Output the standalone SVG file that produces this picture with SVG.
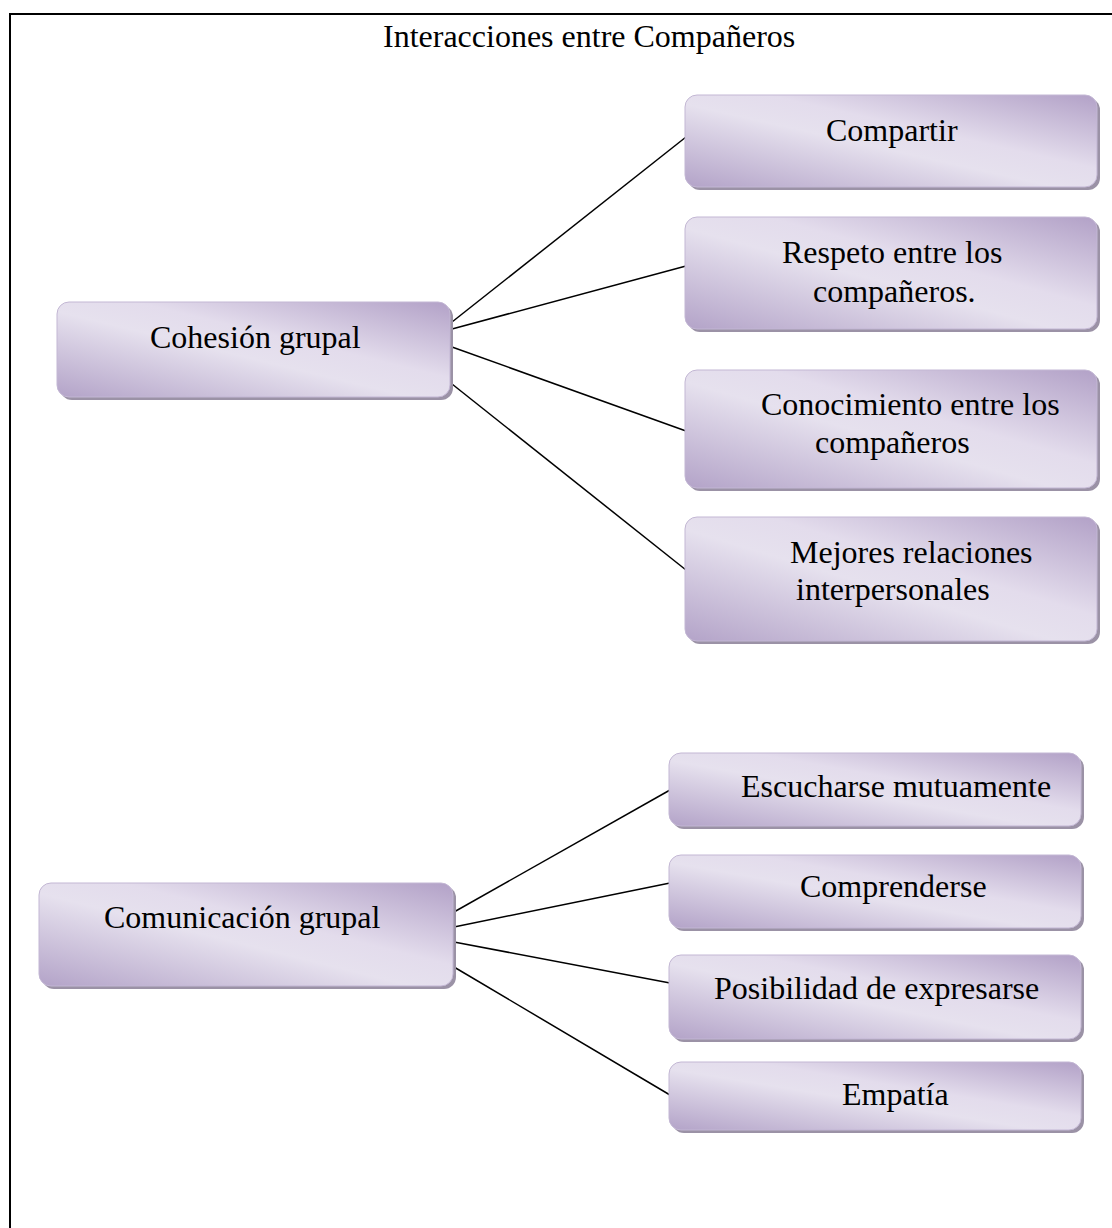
<svg xmlns="http://www.w3.org/2000/svg" width="1112" height="1228" viewBox="0 0 1112 1228">
<defs>
<linearGradient id="g" x1="0" y1="1" x2="1" y2="0">
<stop offset="0" stop-color="#b3a3c8"/>
<stop offset="0.45" stop-color="#e6e1ee"/>
<stop offset="0.6" stop-color="#e3dcec"/>
<stop offset="1" stop-color="#b2a1c7"/>
</linearGradient>
</defs>
<style>
.sh{fill:#9b92a6;}
.bx{fill:url(#g);stroke:#c3b7d4;stroke-width:1;}
.t{font-family:"Liberation Serif","Times New Roman",serif;font-size:32px;fill:#000;}
.c{stroke:#000;stroke-width:1.5;fill:none;}
</style>
<rect width="1112" height="1228" fill="#fff"/>
<path d="M10 1228 V14 H1112" fill="none" stroke="#000" stroke-width="2"/>
<text class="t" x="383" y="47">Interacciones entre Compañeros</text>
<g id="connectors">
<line class="c" x1="452" y1="322" x2="686" y2="137"/>
<line class="c" x1="452" y1="329" x2="686" y2="266"/>
<line class="c" x1="452" y1="347" x2="686" y2="431"/>
<line class="c" x1="452" y1="384" x2="686" y2="570"/>
<line class="c" x1="454" y1="912" x2="670" y2="790"/>
<line class="c" x1="454" y1="927" x2="670" y2="883"/>
<line class="c" x1="454" y1="942" x2="670" y2="983"/>
<line class="c" x1="454" y1="967" x2="670" y2="1095"/>
</g>
<g id="n-cohesion">
<rect class="sh" x="60" y="305" width="393" height="95" rx="12"/>
<rect class="bx" x="57" y="302" width="393" height="95" rx="12"/>
<text class="t" x="150" y="348">Cohesión grupal</text>
</g>
<g id="n-compartir">
<rect class="sh" x="688" y="98" width="412" height="92" rx="12"/>
<rect class="bx" x="685" y="95" width="412" height="92" rx="12"/>
<text class="t" x="826" y="141">Compartir</text>
</g>
<g id="n-respeto">
<rect class="sh" x="688" y="220" width="412" height="112" rx="12"/>
<rect class="bx" x="685" y="217" width="412" height="112" rx="12"/>
<text class="t" x="782" y="263">Respeto entre los</text>
<text class="t" x="813" y="302">compañeros.</text>
</g>
<g id="n-conocimiento">
<rect class="sh" x="688" y="373" width="412" height="118" rx="12"/>
<rect class="bx" x="685" y="370" width="412" height="118" rx="12"/>
<text class="t" x="761" y="415">Conocimiento entre los</text>
<text class="t" x="815" y="453">compañeros</text>
</g>
<g id="n-mejores">
<rect class="sh" x="688" y="520" width="412" height="124" rx="12"/>
<rect class="bx" x="685" y="517" width="412" height="124" rx="12"/>
<text class="t" x="790" y="563">Mejores relaciones</text>
<text class="t" x="796" y="600">interpersonales</text>
</g>
<g id="n-comunicacion">
<rect class="sh" x="42" y="886" width="414" height="103" rx="12"/>
<rect class="bx" x="39" y="883" width="414" height="103" rx="12"/>
<text class="t" x="104" y="928">Comunicación grupal</text>
</g>
<g id="n-escucharse">
<rect class="sh" x="672" y="756" width="412" height="73" rx="12"/>
<rect class="bx" x="669" y="753" width="412" height="73" rx="12"/>
<text class="t" x="741" y="797">Escucharse mutuamente</text>
</g>
<g id="n-comprenderse">
<rect class="sh" x="672" y="858" width="412" height="73" rx="12"/>
<rect class="bx" x="669" y="855" width="412" height="73" rx="12"/>
<text class="t" x="800" y="897">Comprenderse</text>
</g>
<g id="n-posibilidad">
<rect class="sh" x="672" y="958" width="412" height="84" rx="12"/>
<rect class="bx" x="669" y="955" width="412" height="84" rx="12"/>
<text class="t" x="714" y="999">Posibilidad de expresarse</text>
</g>
<g id="n-empatia">
<rect class="sh" x="672" y="1065" width="412" height="68" rx="12"/>
<rect class="bx" x="669" y="1062" width="412" height="68" rx="12"/>
<text class="t" x="842" y="1105">Empatía</text>
</g>
</svg>
